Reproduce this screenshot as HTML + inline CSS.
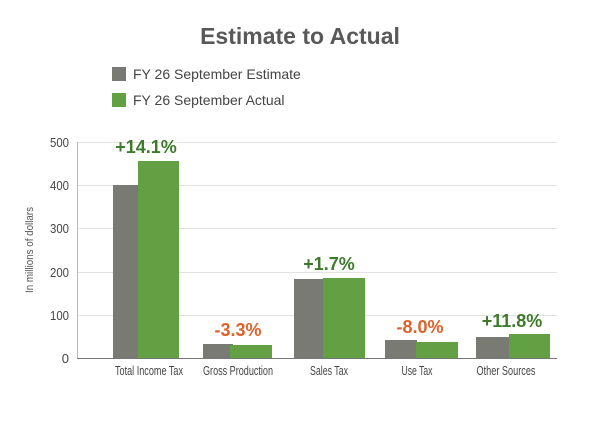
<!DOCTYPE html>
<html><head><meta charset="utf-8"><style>
html,body{margin:0;padding:0;background:#fff;}
svg{display:block;}
</style></head><body>
<svg width="600" height="421" viewBox="0 0 600 421" xmlns="http://www.w3.org/2000/svg" font-family="Liberation Sans, sans-serif">
<rect width="600" height="421" fill="#fff"/>
<text x="300" y="44" text-anchor="middle" font-size="23" font-weight="bold" fill="#595959">Estimate to Actual</text>
<rect x="112" y="67" width="14" height="14" fill="#7a7a74"/>
<text x="133" y="79" font-size="14" fill="#444">FY 26 September Estimate</text>
<rect x="112" y="93" width="14" height="14" fill="#63a043"/>
<text x="133" y="105" font-size="14" fill="#444">FY 26 September Actual</text>
<g stroke="#e2e2e2" stroke-width="1">
<line x1="77" x2="557" y1="142.5" y2="142.5"/>
<line x1="77" x2="557" y1="185.5" y2="185.5"/>
<line x1="77" x2="557" y1="228.5" y2="228.5"/>
<line x1="77" x2="557" y1="272.5" y2="272.5"/>
<line x1="77" x2="557" y1="315.5" y2="315.5"/>
</g>
<line x1="77.5" x2="77.5" y1="142" y2="358" stroke="#bbb"/>
<g font-size="13" fill="#444" text-anchor="end">
<text x="69" y="147" textLength="19" lengthAdjust="spacingAndGlyphs">500</text><text x="69" y="190" textLength="19" lengthAdjust="spacingAndGlyphs">400</text><text x="69" y="233" textLength="19" lengthAdjust="spacingAndGlyphs">300</text>
<text x="69" y="277" textLength="19" lengthAdjust="spacingAndGlyphs">200</text><text x="69" y="320" textLength="19" lengthAdjust="spacingAndGlyphs">100</text><text x="69" y="363">0</text>
</g>
<text transform="translate(33,250) rotate(-90)" text-anchor="middle" font-size="11" fill="#555" textLength="86" lengthAdjust="spacingAndGlyphs">In millions of dollars</text>
<g fill="#7a7a74">
<rect x="113" y="185" width="30" height="173"/>
<rect x="203" y="344" width="30" height="14"/>
<rect x="294" y="279" width="31" height="79"/>
<rect x="385" y="340" width="32" height="18"/>
<rect x="476" y="337" width="34" height="21"/>
</g>
<g fill="#63a043">
<rect x="138" y="161" width="41" height="197"/>
<rect x="230" y="345" width="42" height="13"/>
<rect x="323" y="278" width="42" height="80"/>
<rect x="416" y="342" width="42" height="16"/>
<rect x="509" y="334" width="41" height="24"/>
</g>
<line x1="77" x2="557" y1="358.5" y2="358.5" stroke="#777" stroke-width="1"/>
<g font-size="18" font-weight="bold" text-anchor="middle">
<text x="146" y="153" fill="#3d7a2c">+14.1%</text>
<text x="238" y="336" fill="#e0622a">-3.3%</text>
<text x="329" y="270" fill="#3d7a2c">+1.7%</text>
<text x="420" y="333" fill="#e0622a">-8.0%</text>
<text x="512" y="327" fill="#3d7a2c">+11.8%</text>
</g>
<g font-size="13" fill="#444" text-anchor="middle">
<text x="149" y="375" textLength="68" lengthAdjust="spacingAndGlyphs">Total Income Tax</text>
<text x="238" y="375" textLength="70" lengthAdjust="spacingAndGlyphs">Gross Production</text>
<text x="329" y="375" textLength="38" lengthAdjust="spacingAndGlyphs">Sales Tax</text>
<text x="417" y="375" textLength="31" lengthAdjust="spacingAndGlyphs">Use Tax</text>
<text x="506" y="375" textLength="59" lengthAdjust="spacingAndGlyphs">Other Sources</text>
</g>
</svg>
</body></html>
